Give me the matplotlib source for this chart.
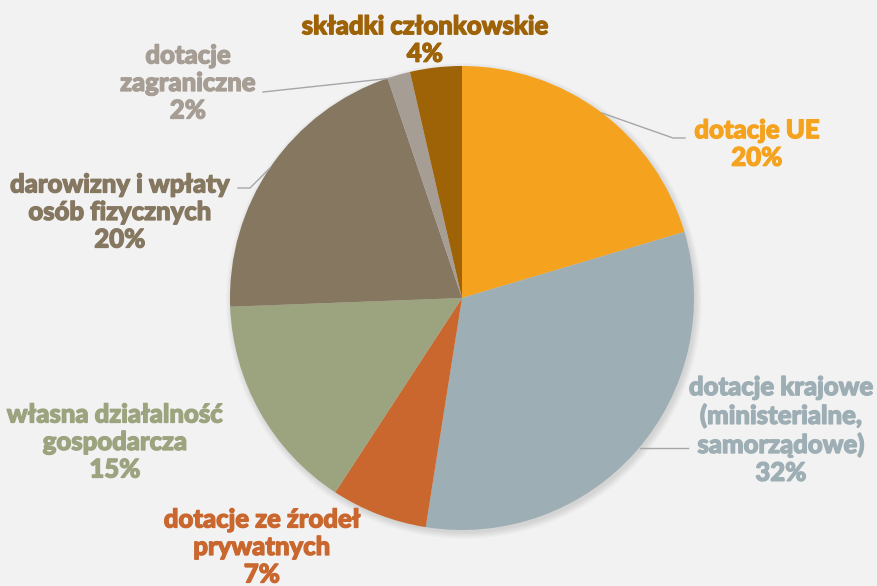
import matplotlib.pyplot as plt
import matplotlib.patheffects as pe
from matplotlib.patches import Circle

# --- data ---
categories = [
    "dotacje UE",
    "dotacje krajowe\n(ministerialne,\nsamorządowe)",
    "dotacje ze źrodeł\nprywatnych",
    "własna działalność\ngospodarcza",
    "darowizny i wpłaty\nosób fizycznych",
    "dotacje\nzagraniczne",
    "składki członkowskie",
]
shares = [20.4, 32.1, 6.7, 15.2, 20.4, 1.6, 3.6]
colors = ["#F5A31F", "#9DAEB4", "#C9672F", "#9CA37F", "#857760", "#A69E95", "#9E6207"]

# label centres and leader lines, in pixels from top-left
label_pos = [(757, 144), (781, 430), (262, 547), (115, 442), (120, 212), (188, 83), (425, 40)]
leaders = {
    0: [(602, 113), (673, 138), (685, 138)],
    1: [(640, 448), (688, 448)],
    4: [(238, 188), (250, 188), (270, 168)],
    5: [(263, 92), (393, 78)],
}

W, H = 877, 586
fig = plt.figure(figsize=(W / 100, H / 100), dpi=100)
fig.patch.set_facecolor("#F2F2F2")
ax = fig.add_axes([0, 0, 1, 1])
ax.set_facecolor("#F2F2F2")

cx, cy, r = 462, H - 298, 232

# soft shadow
for i in range(10):
    ax.add_patch(Circle((cx + 2, cy - 3), r + 6 - i * 0.7, color="black",
                        alpha=0.012, lw=0, zorder=0))

ax.pie(shares, colors=colors, startangle=90, counterclock=False,
       center=(cx, cy), radius=r, wedgeprops=dict(linewidth=0))

ax.set_xlim(0, W)
ax.set_ylim(0, H)
ax.set_aspect("equal")
ax.axis("off")

for i, pts in leaders.items():
    xs = [p[0] for p in pts]
    ys = [H - p[1] for p in pts]
    ax.plot(xs, ys, color="#A6A6A6", lw=1, zorder=3)

for cat, share, col, (x, y) in zip(categories, shares, colors, label_pos):
    ax.text(x, H - y, f"{cat}\n{share:.0f}%", ha="center", va="center",
            fontsize=18.5, fontweight=900, family="Lato", color=col,
            linespacing=1.175, zorder=4,
            path_effects=[pe.withStroke(linewidth=0.9, foreground=col)])

fig.savefig("out.png", dpi=100, facecolor=fig.get_facecolor())
